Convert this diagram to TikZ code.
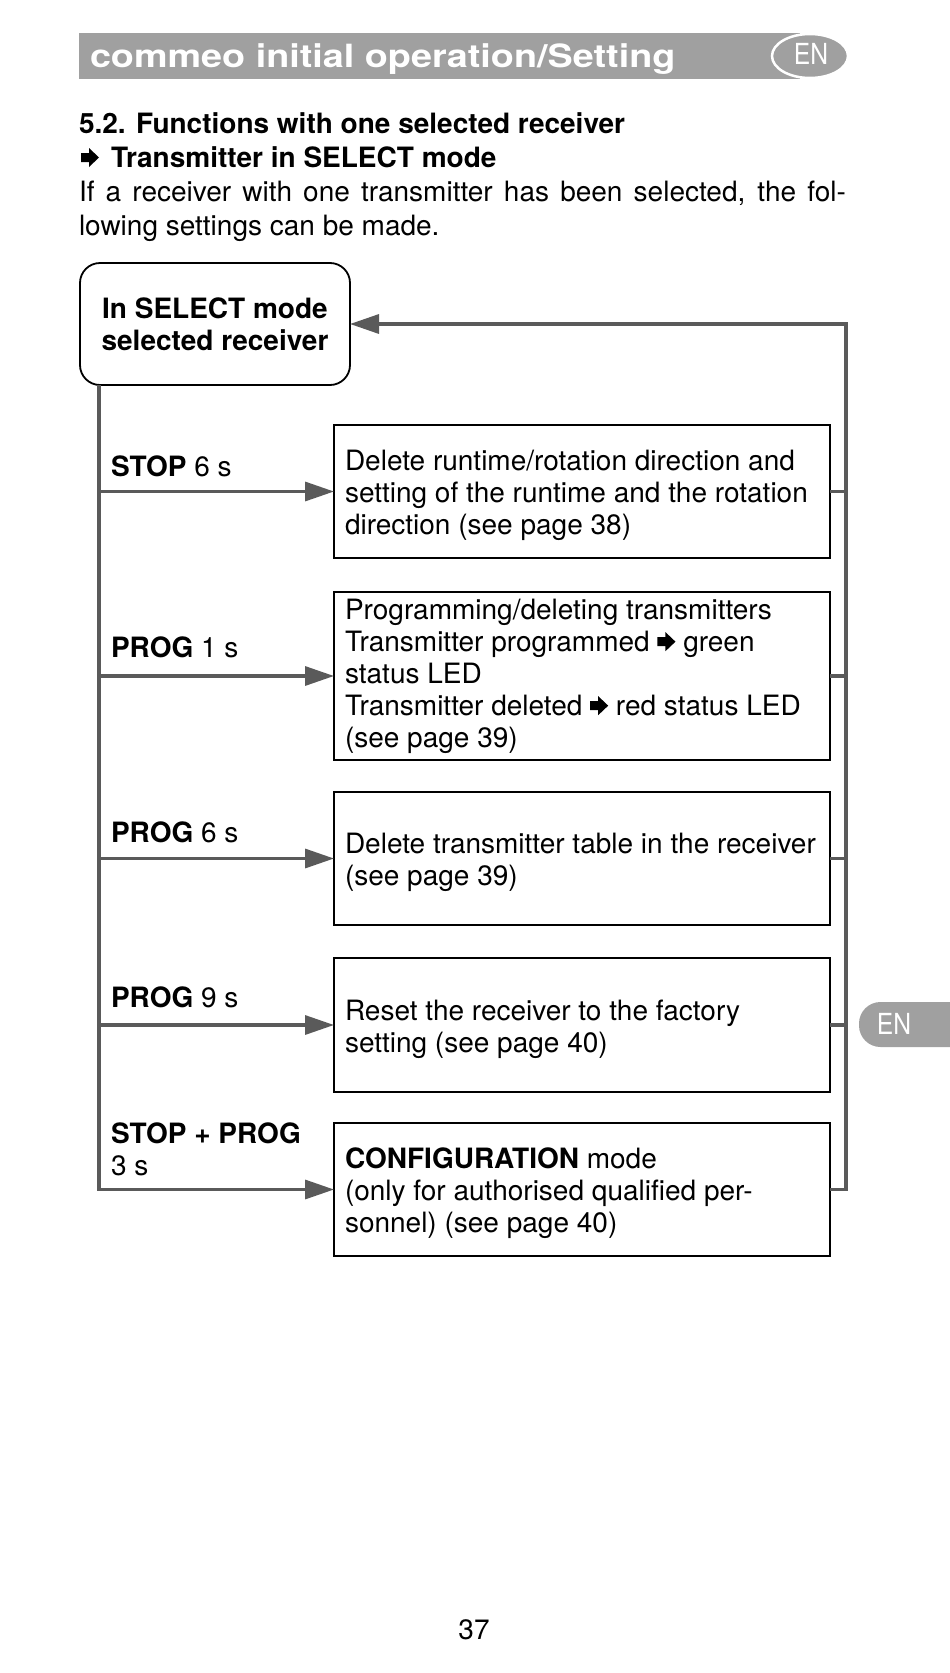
\documentclass[tikz,border=0pt]{standalone}
\usepackage{graphicx}
\usepackage{fontspec}
\setmainfont{TeX Gyre Heros}
\usetikzlibrary{arrows.meta}
\definecolor{linegray}{HTML}{5A5A5A}
\definecolor{bargray}{HTML}{A0A0A0}
\newcommand{\rarr}{\tikz[x=1pt,y=1pt,baseline=0pt]\fill (0,5) -- (8,5) -- (8,0) -- (18,9.5) -- (8,19) -- (8,14) -- (0,14) -- cycle;}
\begin{document}
\begin{tikzpicture}[x=1pt,y=-1pt,
  every node/.style={inner sep=0pt, outer sep=0pt},
  txt/.style={font=\fontsize{28}{32}\selectfont},
  box/.style={draw=black, line width=1.8pt, minimum width=496pt, text width=474pt, inner xsep=11pt, inner ysep=0pt, align=flush left, font=\fontsize{28}{32}\selectfont},
  lowtext/.style={execute at begin node={\rule{0pt}{28.5pt}}},
  conn/.style={draw=linegray, line width=3.3pt},
  arr/.style={conn, -{Triangle[length=29pt,width=19pt]}},
]
\useasboundingbox (0,0) rectangle (950,1673);
\fill[white] (0,0) rectangle (950,1673);
% header
\fill[bargray] (79,33) rectangle (800,79);
\filldraw[fill=bargray, draw=white, line width=2.5pt] (810,56) ellipse [x radius=38pt, y radius=22pt];
\node[text=white, font=\fontsize{29}{29}\selectfont] (en1) at (811,54) {\scalebox{0.85}[1]{EN}};
\node[anchor=base west, text=white, font=\bfseries\fontsize{32}{32}\selectfont] (title) at (90,67) {\scalebox{1.18}[1]{commeo initial operation/Setting}};
% intro text
\node[anchor=base west, font=\bfseries\fontsize{28}{34}\selectfont] (h1) at (79,133) {5.2. Functions with one selected receiver};
\node[anchor=base west, font=\bfseries\fontsize{28}{34}\selectfont] (h2) at (81,167) {\rarr\hspace{12pt}Transmitter in SELECT mode};
\node[anchor=base west, txt] (p1) at (79,201) {\hbox to 767pt{If a receiver with one transmitter has been selected, the fol-}};
\node[anchor=base west, txt] (p2) at (79,235) {lowing settings can be made.};
% start node
\node[draw=black, line width=1.8pt, rounded corners=20pt, minimum width=270pt, minimum height=122pt, align=center, font=\bfseries\fontsize{28}{32}\selectfont] (start) at (215,324) {In SELECT mode\\selected receiver};
% boxes
\node[box, lowtext, minimum height=133pt] (b1) at (582,491.5) {Delete runtime/rotation direction and\\setting of the runtime and the rotation\\direction (see page 38)};
\node[box, minimum height=168pt] (b2) at (582,676) {Programming/deleting transmitters\\Transmitter programmed \rarr\ green\\status LED\\Transmitter deleted \rarr\ red status LED\\(see page 39)};
\node[box, lowtext, minimum height=133pt] (b3) at (582,858.5) {Delete transmitter table in the receiver\\(see page 39)};
\node[box, lowtext, minimum height=134pt] (b4) at (582,1025) {Reset the receiver to the factory\\setting (see page 40)};
\node[box, lowtext, minimum height=133pt] (b5) at (582,1189.5) {\textbf{CONFIGURATION} mode\\(only for authorised qualified per-\\sonnel) (see page 40)};
% connectors
\coordinate (ls) at (99,385);
\coordinate (rt) at (846,324);
\draw[arr] (start.south -| ls) -- (b5.west -| ls) -- (b5.west);
\foreach \b in {b1,b2,b3,b4} \draw[arr] (\b.west -| ls) -- (\b.west);
\draw[arr] (b5.east) -- (b5.east -| rt) -- (rt) -- (start.east);
\foreach \b in {b1,b2,b3,b4} \draw[conn] (\b.east) -- (\b.east -| rt);
% labels
\node[anchor=base west, txt] (lab1) at (111,476) {\textbf{STOP} 6 s};
\node[anchor=base west, txt] (lab2) at (111,657) {\textbf{PROG} 1 s};
\node[anchor=base west, txt] (lab3) at (111,842) {\textbf{PROG} 6 s};
\node[anchor=base west, txt] (lab4) at (111,1007) {\textbf{PROG} 9 s};
\node[anchor=base west, txt] (lab5) at (111,1143) {\textbf{STOP + PROG}};
\node[anchor=base west, txt] (lab6) at (111,1175) {3 s};
% side tab
\fill[bargray, rounded corners=21.5pt] (859,1002) rectangle (990,1047);
\node[text=white, font=\fontsize{29}{29}\selectfont] (en2) at (894,1024) {\scalebox{0.85}[1]{EN}};
% page number
\node[txt, anchor=base] (pg) at (474,1639) {37};
\end{tikzpicture}
\end{document}
